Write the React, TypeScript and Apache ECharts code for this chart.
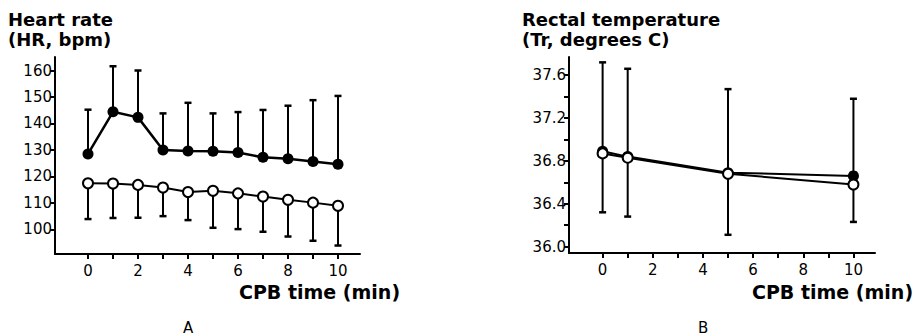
import React, { useEffect, useRef } from "react";
import * as echarts from "echarts";

// Panel A: heart rate
const hrTime = [0, 1, 2, 3, 4, 5, 6, 7, 8, 9, 10];
const hrFilled = [128.5, 144.4, 142.3, 130, 129.6, 129.5, 129, 127.2, 126.7, 125.6, 124.6];
const hrFilledUpper = [145.2, 161.6, 160, 143.8, 147.8, 143.8, 144.3, 145.1, 146.7, 148.8, 150.4];
const hrOpen = [117.4, 117.3, 116.8, 115.8, 114.1, 114.6, 113.6, 112.4, 111.2, 110.1, 108.9];
const hrOpenLower = [103.9, 104.3, 104.4, 105, 103.5, 100.6, 100.1, 99.1, 97.3, 95.7, 93.9];
const hrYTicks = [100, 110, 120, 130, 140, 150, 160];

// Panel B: rectal temperature
const trTime = [0, 1, 5, 10];
const trFilled = [36.89, 36.84, 36.69, 36.66];
const trFilledUpper = [37.72, 37.66, 37.47, 37.38];
const trOpen = [36.87, 36.83, 36.68, 36.58];
const trOpenLower = [36.32, 36.28, 36.11, 36.23];
const trYTicks = [36.0, 36.2, 36.4, 36.6, 36.8, 37.0, 37.2, 37.4, 37.6];
const trYLabels = [36.0, 36.4, 36.8, 37.2, 37.6];

const xTicks = [0, 1, 2, 3, 4, 5, 6, 7, 8, 9, 10];
const xLabels = [0, 2, 4, 6, 8, 10];

const FONT = "DejaVu Sans";

function errBars(times: number[], centers: number[], ends: number[], xi: number, yi: number) {
  return {
    type: "custom",
    xAxisIndex: xi,
    yAxisIndex: yi,
    z: 1,
    renderItem: (params: any, api: any) => {
      const x = api.value(0);
      const c = api.coord([x, api.value(1)]);
      const e = api.coord([x, api.value(2)]);
      const hw = 3.5;
      return {
        type: "group",
        children: [
          { type: "line", shape: { x1: c[0], y1: c[1], x2: e[0], y2: e[1] }, style: { stroke: "#000", lineWidth: 2 } },
          { type: "line", shape: { x1: e[0] - hw, y1: e[1], x2: e[0] + hw, y2: e[1] }, style: { stroke: "#000", lineWidth: 2.5 } },
        ],
      };
    },
    data: times.map((t, i) => [t, centers[i], ends[i]]),
  };
}

function lineSeries(times: number[], vals: number[], filled: boolean, xi: number, yi: number, lw: number) {
  return {
    type: "line",
    xAxisIndex: xi,
    yAxisIndex: yi,
    z: 3,
    symbol: "circle",
    symbolSize: filled ? 11 : 10,
    lineStyle: { color: "#000", width: lw },
    itemStyle: { color: filled ? "#000" : "#fff", borderColor: "#000", borderWidth: filled ? 0 : 2 },
    data: times.map((t, i) => [t, vals[i]]),
  };
}

function xAxis(grid: number, min: number, max: number) {
  return {
    type: "value",
    gridIndex: grid,
    min,
    max,
    axisLine: { show: true, onZero: false, lineStyle: { color: "#000", width: 2 } },
    axisTick: { show: true, customValues: xTicks, length: 5, lineStyle: { color: "#000", width: 2 } },
    axisLabel: { customValues: xLabels, color: "#000", fontFamily: FONT, fontSize: 15, margin: 9 },
    splitLine: { show: false },
  };
}

export default function App() {
  const ref = useRef<HTMLDivElement>(null);
  useEffect(() => {
    document.body.style.margin = "0";
    const chart = echarts.init(ref.current!, null, { renderer: "svg" });
    const textStyle = (size: number) => ({ fill: "#000", font: `bold ${size}px "${FONT}"` });
    chart.setOption({
      animation: false,
      backgroundColor: "#fff",
      grid: [
        { left: 55, top: 57, width: 305, height: 197 },
        { left: 569, top: 57, width: 306, height: 196 },
      ],
      xAxis: [xAxis(0, -1.32, 10.88), xAxis(1, -1.34, 10.86)],
      yAxis: [
        {
          type: "value",
          gridIndex: 0,
          min: 90.7,
          max: 165.1,
          axisLine: { show: true, onZero: false, lineStyle: { color: "#000", width: 2 } },
          axisTick: { show: true, customValues: hrYTicks, length: 5, lineStyle: { color: "#000", width: 2 } },
          axisLabel: { customValues: hrYTicks, color: "#000", fontFamily: FONT, fontSize: 15, margin: 3 },
          splitLine: { show: false },
        },
        {
          type: "value",
          gridIndex: 1,
          min: 35.94,
          max: 37.77,
          axisLine: { show: true, onZero: false, lineStyle: { color: "#000", width: 2 } },
          axisTick: { show: true, customValues: trYTicks, length: 5, lineStyle: { color: "#000", width: 2 } },
          axisLabel: {
            customValues: trYLabels,
            color: "#000",
            fontFamily: FONT,
            fontSize: 15,
            margin: 3,
            formatter: (v: number) => v.toFixed(1),
          },
          splitLine: { show: false },
        },
      ],
      graphic: [
        { type: "text", left: 8, top: 10, style: { text: "Heart rate", ...textStyle(18) } },
        { type: "text", left: 8, top: 30, style: { text: "(HR, bpm)", ...textStyle(18) } },
        { type: "text", left: 522, top: 10, style: { text: "Rectal temperature", ...textStyle(18) } },
        { type: "text", left: 522, top: 30, style: { text: "(Tr, degrees C)", ...textStyle(18) } },
        { type: "text", left: 239, top: 282, style: { text: "CPB time (min)", ...textStyle(19) } },
        { type: "text", left: 752, top: 282, style: { text: "CPB time (min)", ...textStyle(19) } },
        { type: "text", left: 183, top: 320, style: { text: "A", fill: "#000", font: `15px "${FONT}"` } },
        { type: "text", left: 698, top: 320, style: { text: "B", fill: "#000", font: `15px "${FONT}"` } },
      ],
      series: [
        errBars(hrTime, hrFilled, hrFilledUpper, 0, 0),
        errBars(hrTime, hrOpen, hrOpenLower, 0, 0),
        lineSeries(hrTime, hrFilled, true, 0, 0, 2.5),
        lineSeries(hrTime, hrOpen, false, 0, 0, 2),
        errBars(trTime, trFilled, trFilledUpper, 1, 1),
        errBars(trTime, trOpen, trOpenLower, 1, 1),
        lineSeries(trTime, trFilled, true, 1, 1, 2),
        lineSeries(trTime, trOpen, false, 1, 1, 2),
      ],
    });
    return () => chart.dispose();
  }, []);
  return <div ref={ref} style={{ width: 914, height: 336 }} />;
}
